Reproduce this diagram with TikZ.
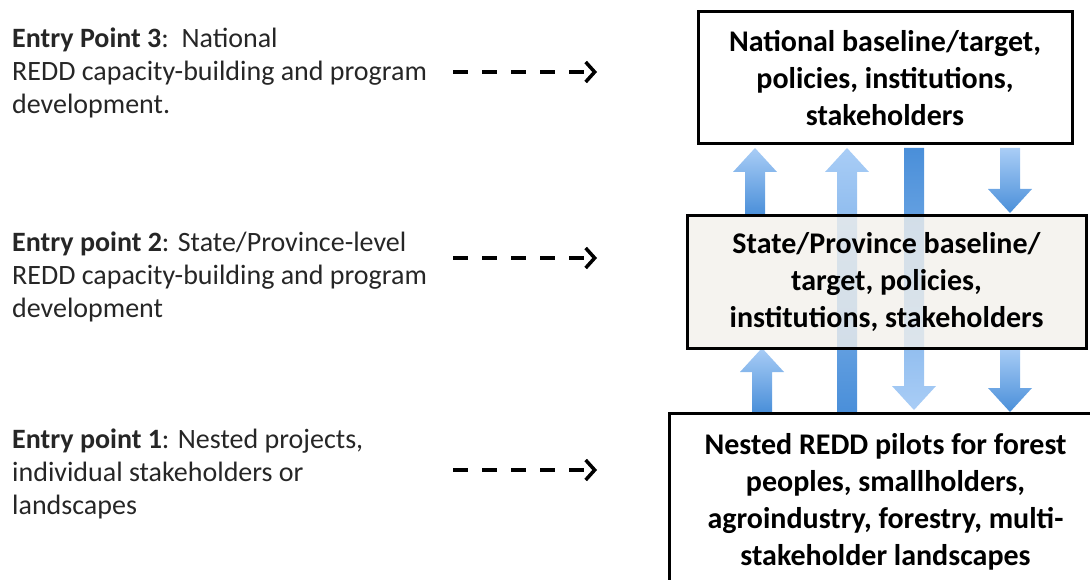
\documentclass[tikz,border=0pt]{standalone}
\usepackage{fontspec}
\setmainfont{Carlito}
\usepackage{xcolor}
\usepackage{tikz}
\usetikzlibrary{arrows.meta, positioning}
\definecolor{arrowlight}{HTML}{A9CDF6}
\definecolor{arrowdark}{HTML}{4A8FD9}
\definecolor{midfill}{HTML}{F2F0EB}

% block arrow: x, tail y, tip y, shading
\newcommand{\blockarrow}[4]{%
  \pgfmathsetmacro\hb{#3-24*sign(#3-#2)}
  \shade[#4] (#1-10,#2) -- (#1-10,\hb) -- (#1-22,\hb) -- (#1,#3) -- (#1+22,\hb) -- (#1+10,\hb) -- (#1+10,#2) -- cycle;
}

\begin{document}
\begin{tikzpicture}[
  x=1pt, y=-1pt,
  box/.style={draw=black, line width=3pt, fill=white, align=center, inner sep=0pt, font=\bfseries\fontsize{30}{37}\selectfont},
  entry/.style={anchor=base west, align=left, inner sep=0pt, text=black!85, font=\fontsize{28}{33}\selectfont},
  dasharrow/.style={line width=4pt, dash pattern=on 15pt off 14pt, -{Straight Barb[length=9pt, width=20pt, line width=3.5pt]}},
  upshade/.style={top color=arrowlight, bottom color=arrowdark},
  downshade/.style={top color=arrowdark, bottom color=arrowlight},
]
\useasboundingbox (0,0) rectangle (1090,580);

% entry points (anchored at the last baseline)
\node[entry] (ep3) at (12,114) {\textbf{Entry Point 3}:\ \ National\\REDD capacity-building and program\\development.};
\node[entry] (ep2) at (12,317) {\textbf{Entry point 2}: State/Province-level\\REDD capacity-building and program\\development};
\node[entry] (ep1) at (12,514) {\textbf{Entry point 1}: Nested projects,\\individual stakeholders or\\landscapes};

\coordinate (d3a) at (453,72);
\coordinate (d3b) at (597,72);
\coordinate (d2a) at (453,258);
\coordinate (d2b) at (597,258);
\coordinate (d1a) at (453,470);
\coordinate (d1b) at (597,470);
\draw[dasharrow] (d3a) -- (d3b);
\draw[dasharrow] (d2a) -- (d2b);
\draw[dasharrow] (d1a) -- (d1b);

% block arrows between levels
\blockarrow{755}{215}{148}{upshade}
\blockarrow{847}{412}{148}{upshade}
\blockarrow{914}{148}{410}{downshade}
\blockarrow{1010}{148}{213}{upshade}
\blockarrow{762}{412}{348}{upshade}
\blockarrow{1010}{347}{412}{upshade}

% levels
\node[box, minimum width=374pt, minimum height=132pt] (nat) at (885,78) {National baseline/target,\\policies, institutions,\\stakeholders};
\node[box, fill=midfill, fill opacity=0.78, text opacity=1, draw opacity=1, minimum width=399pt, minimum height=132pt] (prov) at (886.5,282) {State/Province baseline/\\target, policies,\\institutions, stakeholders};
\node[box, anchor=north west, minimum width=432pt, minimum height=176pt] (pil) at (668,412) {Nested REDD pilots for forest\\peoples, smallholders,\\agroindustry, forestry, multi-\\stakeholder landscapes};
\end{tikzpicture}
\end{document}
